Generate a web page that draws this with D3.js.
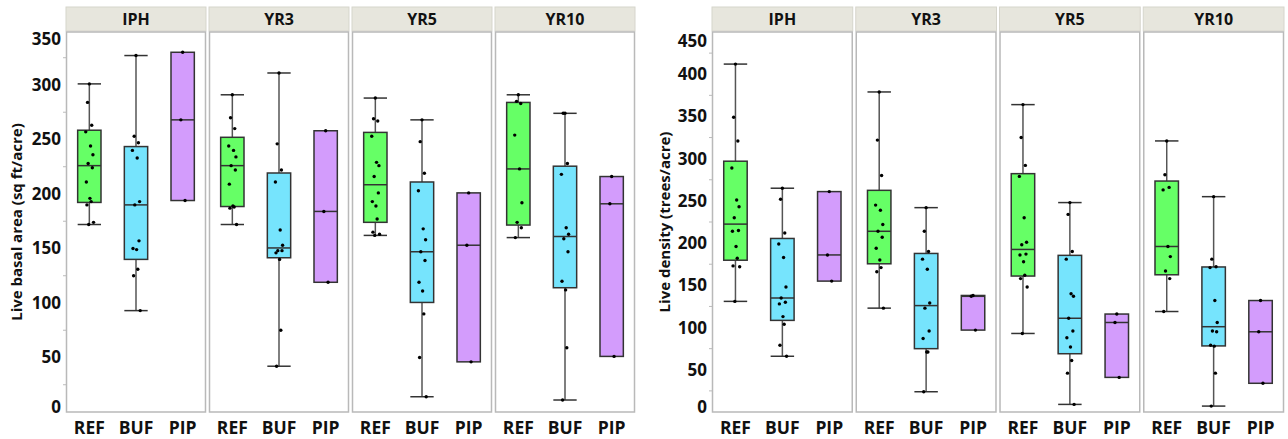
<!DOCTYPE html>
<html>
<head>
<meta charset="utf-8">
<script src="https://cdn.jsdelivr.net/npm/d3@7"></script>
<style>
    body { margin: 0; background: #fff; }
    text { font-family: 'Open Sans', 'Noto Sans', sans-serif; font-weight: bold; fill: #111; }
</style>
</head>
<body>
<div id="chart"></div>
<script>
// panels and groups
var periods = ['IPH', 'YR3', 'YR5', 'YR10'];
var groups = ['REF', 'BUF', 'PIP'];
var groupColors = ['#66ff66', '#76e4fd', '#d39cfc'];

// live basal area (sq ft/acre), one list per period: REF, BUF, PIP
var basalIPH = [
    [301, 284, 263, 257, 244, 236, 228, 224, 211, 196, 193, 190, 174, 172],
    [327, 253, 247, 240, 233, 193, 190, 157, 150, 149, 131, 125, 93],
    [330, 268, 194]
];
var basalYR3 = [
    [291, 270, 260, 244, 240, 234, 226, 222, 209, 189, 188, 187, 172],
    [311, 246, 222, 211, 167, 153, 148, 148, 146, 140, 75, 42],
    [258, 184, 119]
];
var basalYR5 = [
    [288, 269, 267, 253, 229, 226, 216, 201, 193, 189, 177, 165, 163, 162],
    [268, 248, 219, 203, 168, 158, 147, 139, 119, 111, 90, 50, 14],
    [201, 153, 46]
];
var basalYR10 = [
    [291, 285, 283, 254, 223, 192, 174, 169, 160],
    [274, 274, 228, 218, 169, 163, 159, 147, 120, 112, 59, 11],
    [216, 191, 51]
];

// live density (trees/acre)
var densIPH = [
    [412, 349, 321, 289, 251, 243, 230, 215, 214, 196, 182, 173, 172, 131],
    [265, 252, 212, 199, 183, 148, 135, 130, 128, 113, 104, 79, 66],
    [261, 186, 155]
];
var densYR3 = [
    [379, 322, 280, 245, 239, 222, 214, 207, 194, 180, 171, 166, 123],
    [242, 214, 190, 181, 169, 129, 123, 96, 87, 71, 71, 24],
    [138, 137, 97]
];
var densYR5 = [
    [364, 325, 292, 279, 230, 201, 198, 187, 186, 178, 162, 158, 148, 93],
    [248, 234, 190, 181, 140, 137, 111, 96, 88, 77, 61, 46, 9],
    [116, 106, 41]
];
var densYR10 = [
    [321, 281, 266, 263, 196, 184, 167, 158, 119],
    [255, 181, 172, 171, 132, 106, 96, 95, 79, 78, 46, 7],
    [132, 95, 34]
];

var basalTicks = [0, 50, 100, 150, 200, 250, 300, 350];
var densTicks = [0, 50, 100, 150, 200, 250, 300, 350, 400, 450];

var svg = d3.select('#chart').append('svg')
    .attr('width', 1288)
    .attr('height', 439);

// small fixed horizontal offsets for the dots
var jitter = [0, -3, 4, -6, 2, 6, -2, 5, -5, 1, 3, -4, 7, -1];

drawChart({
    x0: 66, x1: 635, yTop: 32, yBottom: 412, yMax: 348.6,
    ticks: basalTicks, title: 'Live basal area (sq ft/acre)', titleX: 17,
    data: [basalIPH, basalYR3, basalYR5, basalYR10]
});

drawChart({
    x0: 712, x1: 1284, yTop: 32, yBottom: 412, yMax: 450,
    ticks: densTicks, title: 'Live density (trees/acre)', titleX: 665,
    data: [densIPH, densYR3, densYR5, densYR10]
});

function drawChart(cfg) {
    var panelX = d3.scaleBand()
        .domain(periods)
        .range([cfg.x0, cfg.x1])
        .paddingInner(0.021);

    var groupX = d3.scaleBand()
        .domain(groups)
        .range([0, panelX.bandwidth()]);

    var y = d3.scaleLinear()
        .domain([0, cfg.yMax])
        .range([cfg.yBottom, cfg.yTop]);

    var boxW = groupX.bandwidth() * 0.5;

    // y axis labels
    var gAxis = svg.append('g')
        .attr('transform', `translate(${cfg.x0 - 5}, 0)`)
        .call(d3.axisLeft(y).tickValues(cfg.ticks).tickSize(0).tickPadding(0));
    gAxis.select('.domain').remove();
    gAxis.selectAll('text')
        .attr('font-size', '17px')
        .attr('fill', '#111')
        .style('font-family', null)
        .attr('dy', function(d) {
            if (d === 0) return '-0.0em';
            if (d === cfg.ticks[cfg.ticks.length - 1]) return '0.85em';
            return '0.32em';
        });

    // minor ticks
    var minor = d3.range(25, cfg.yMax, 50);
    svg.append('g').selectAll('line')
        .data(minor)
        .join('line')
        .attr('x1', cfg.x0 - 3)
        .attr('x2', cfg.x0)
        .attr('y1', d => y(d))
        .attr('y2', d => y(d))
        .attr('stroke', '#bbb');

    svg.append('text')
        .attr('transform', `translate(${cfg.titleX}, ${(cfg.yTop + cfg.yBottom) / 2}) rotate(-90)`)
        .attr('text-anchor', 'middle')
        .attr('dy', '0.35em')
        .attr('font-size', '15px')
        .text(cfg.title);

    periods.forEach(function(p, pi) {
        var px = panelX(p);
        var g = svg.append('g').attr('transform', `translate(${px}, 0)`);

        // header strip
        g.append('rect')
            .attr('x', 0)
            .attr('y', 7)
            .attr('width', panelX.bandwidth())
            .attr('height', 24)
            .attr('fill', '#e7e6dd')
            .attr('stroke', '#d6d5cc');
        g.append('text')
            .attr('x', panelX.bandwidth() / 2)
            .attr('y', 19)
            .attr('dy', '0.35em')
            .attr('text-anchor', 'middle')
            .attr('font-size', '16px')
            .text(p);

        // frame
        g.append('rect')
            .attr('x', 0.5)
            .attr('y', cfg.yTop)
            .attr('width', panelX.bandwidth() - 1)
            .attr('height', cfg.yBottom - cfg.yTop)
            .attr('fill', '#fff')
            .attr('stroke', '#b9b9b9')
            .attr('stroke-width', 1.5);

        groups.forEach(function(grp, gi) {
            var vals = cfg.data[pi][gi].slice().sort(d3.ascending);
            var s = boxStats(vals);
            var cx = groupX(grp) + groupX.bandwidth() / 2;
            var gb = g.append('g');

            // whiskers
            if (s.hi > s.q3) {
                gb.append('line')
                    .attr('x1', cx).attr('x2', cx)
                    .attr('y1', y(s.q3)).attr('y2', y(s.hi))
                    .attr('stroke', '#555').attr('stroke-width', 1.5);
                gb.append('line')
                    .attr('x1', cx - boxW / 2).attr('x2', cx + boxW / 2)
                    .attr('y1', y(s.hi)).attr('y2', y(s.hi))
                    .attr('stroke', '#333').attr('stroke-width', 1.5);
            }
            if (s.lo < s.q1) {
                gb.append('line')
                    .attr('x1', cx).attr('x2', cx)
                    .attr('y1', y(s.q1)).attr('y2', y(s.lo))
                    .attr('stroke', '#555').attr('stroke-width', 1.5);
                gb.append('line')
                    .attr('x1', cx - boxW / 2).attr('x2', cx + boxW / 2)
                    .attr('y1', y(s.lo)).attr('y2', y(s.lo))
                    .attr('stroke', '#333').attr('stroke-width', 1.5);
            }

            // box
            gb.append('rect')
                .attr('x', cx - boxW / 2)
                .attr('y', y(s.q3))
                .attr('width', boxW)
                .attr('height', y(s.q1) - y(s.q3))
                .attr('fill', groupColors[gi])
                .attr('stroke', '#333')
                .attr('stroke-width', 1.5);
            gb.append('line')
                .attr('x1', cx - boxW / 2).attr('x2', cx + boxW / 2)
                .attr('y1', y(s.med)).attr('y2', y(s.med))
                .attr('stroke', '#333').attr('stroke-width', 1.5);

            // points
            gb.selectAll('circle')
                .data(cfg.data[pi][gi])
                .join('circle')
                .attr('cx', (d, i) => cx + jitter[i % jitter.length] * 0.6)
                .attr('cy', d => y(d))
                .attr('r', 1.7)
                .attr('fill', '#000');

            // category label
            svg.append('text')
                .attr('x', px + cx)
                .attr('y', 428)
                .attr('dy', '0.35em')
                .attr('text-anchor', 'middle')
                .attr('font-size', '17.5px')
                .text(grp);
        });
    });
}

// quantiles the way JMP computes them: rank (n+1)p
function quant(sorted, p) {
    var n = sorted.length;
    var r = (n + 1) * p;
    if (r <= 1) return sorted[0];
    if (r >= n) return sorted[n - 1];
    var lo = Math.floor(r);
    return sorted[lo - 1] + (r - lo) * (sorted[lo] - sorted[lo - 1]);
}

function boxStats(sorted) {
    var q1 = quant(sorted, 0.25),
        med = quant(sorted, 0.5),
        q3 = quant(sorted, 0.75);
    var iqr = q3 - q1;
    var inside = sorted.filter(v => v >= q1 - 1.5 * iqr && v <= q3 + 1.5 * iqr);
    return { q1: q1, med: med, q3: q3, lo: d3.min(inside), hi: d3.max(inside) };
}
</script>
</body>
</html>
